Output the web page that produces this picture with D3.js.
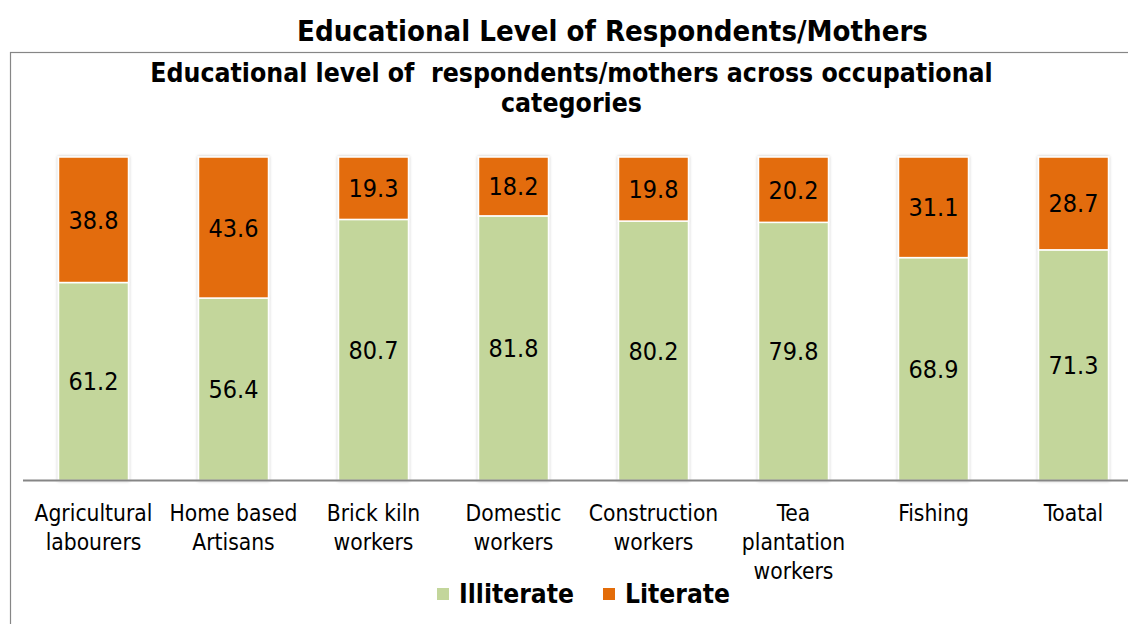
<!DOCTYPE html>
<html><head><meta charset="utf-8">
<script src="https://cdn.jsdelivr.net/npm/d3@7"></script>
<style>
html,body{margin:0;padding:0;background:#fff;}
svg{display:block;}
text{font-family:"DejaVu Sans Condensed","DejaVu Sans",sans-serif;fill:#000;}
</style></head>
<body><svg id="chart" width="1128" height="624"></svg>
<script>
const categories = ["Agricultural\nlabourers","Home based\nArtisans","Brick kiln\nworkers","Domestic\nworkers","Construction\nworkers","Tea\nplantation\nworkers","Fishing","Toatal"];
const illiterate = [61.2, 56.4, 80.7, 81.8, 80.2, 79.8, 68.9, 71.3];
const literate   = [38.8, 43.6, 19.3, 18.2, 19.8, 20.2, 31.1, 28.7];
const seriesNames = ["Illiterate","Literate"];
const colors = ["#C3D69B","#E36C09"];
const title = "Educational Level of Respondents/Mothers";
const subtitle = ["Educational level of\u00a0 respondents/mothers across occupational","categories"];

const svg = d3.select("#chart");
const defs = svg.append("defs");
const f = defs.append("filter").attr("id","sh").attr("x","-20%").attr("y","-5%").attr("width","140%").attr("height","110%");
f.append("feDropShadow").attr("dx",0).attr("dy",0).attr("stdDeviation",1.6).attr("flood-color","#000").attr("flood-opacity",0.28);

function fit(str, weight, target){
  const t = svg.append("text").attr("font-size",100).attr("font-weight",weight).text(str);
  const w = t.node().getComputedTextLength(); t.remove();
  return 100*target/w;
}

// frame
svg.append("rect").attr("x",10.5).attr("y",52.5).attr("width",1300).attr("height",700)
  .attr("fill","none").attr("stroke","#868686").attr("stroke-width",1.2);

// title
svg.append("text").attr("x",612.5).attr("y",41).attr("text-anchor","middle")
  .attr("font-weight","bold").attr("font-size",fit(title,"bold",631)).text(title);
const subSize = fit(subtitle[0],"bold",843);
subtitle.forEach((s,i)=>svg.append("text").attr("x",571.5).attr("y",82+i*29.5)
  .attr("text-anchor","middle").attr("font-weight","bold").attr("font-size",subSize)
  .style("white-space","pre").text(s));

const data = categories.map((c,i)=>({cat:c, vals:[illiterate[i], literate[i]]}));
const stack = d3.stack().keys([0,1]).value((d,k)=>d.vals[k])(data);

const x = d3.scaleBand().domain(categories).range([23.5,1143.5]).paddingInner(0.5).paddingOuter(0.25);
const y = d3.scaleLinear().domain([0,100]).range([480.5,157]);

const gBars = svg.append("g");
data.forEach((d,i)=>{
  const g = gBars.append("g").attr("filter","url(#sh)");
  stack.forEach((s,k)=>{
    g.append("rect").attr("x",x(d.cat)).attr("width",x.bandwidth())
      .attr("y",y(s[i][1])).attr("height",y(s[i][0])-y(s[i][1]))
      .attr("fill",colors[k]).attr("stroke","#fff").attr("stroke-width",1.5);
  });
});

// data labels
const lblSize = fit("38.8","normal",50);
stack.forEach((s,k)=>{
  s.forEach((p,i)=>{
    svg.append("text").attr("x",x(data[i].cat)+x.bandwidth()/2)
      .attr("y",(y(p[0])+y(p[1]))/2+lblSize*0.36)
      .attr("text-anchor","middle").attr("font-size",lblSize)
      .text(d3.format(".1f")(p[1]-p[0]));
  });
});

// axis baseline
svg.append("line").attr("x1",23).attr("x2",1128).attr("y1",480.5).attr("y2",480.5)
  .attr("stroke","#868686").attr("stroke-width",2);

// category labels
const catSize = fit("Agricultural","normal",118);
categories.forEach(c=>{
  const t = svg.append("text").attr("text-anchor","middle").attr("font-size",catSize);
  c.split("\n").forEach((ln,j)=>t.append("tspan").attr("x",x(c)+x.bandwidth()/2).attr("y",521+j*29).text(ln));
});

// legend
const legSize = fit("Illiterate","bold",115);
const legX = [437,603];
seriesNames.forEach((n,k)=>{
  svg.append("rect").attr("x",legX[k]).attr("y",588).attr("width",12).attr("height",12).attr("fill",colors[k]);
  svg.append("text").attr("x",legX[k]+22).attr("y",603).attr("font-weight","bold").attr("font-size",legSize).text(n);
});
</script></body></html>
